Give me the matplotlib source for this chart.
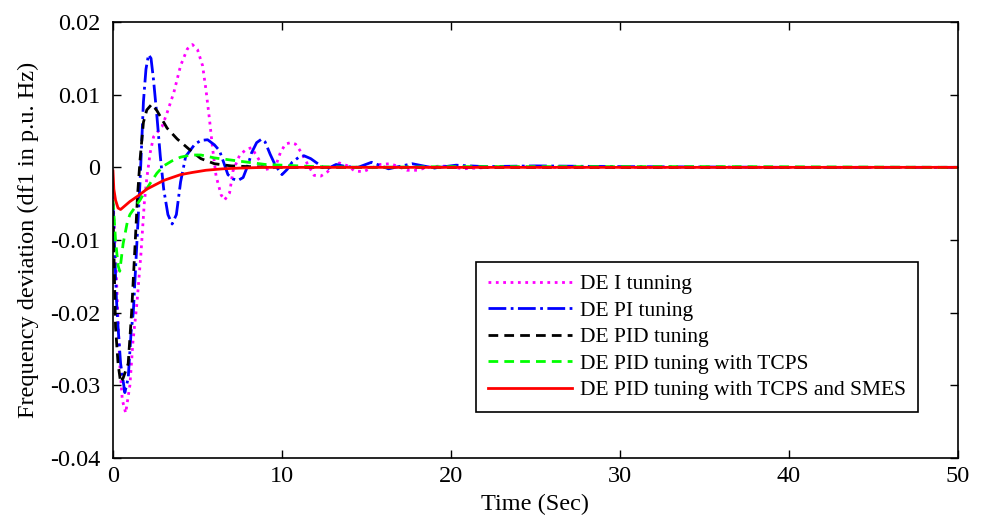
import matplotlib
matplotlib.use('Agg')
import matplotlib.pyplot as plt

# Values (time in s, deviation in p.u. Hz)
t_i = [0, 0.2, 0.4, 0.55, 0.75, 1.0, 1.18, 1.42, 1.65, 1.85, 2.0, 2.2, 2.4, 2.9, 3.2, 3.6, 4.0,
       4.4, 4.7, 5.0, 5.3, 5.5, 5.7, 5.9, 6.1, 6.4, 6.6, 6.9, 7.1, 7.5, 7.9, 8.2, 8.6, 9.0,
       9.6, 9.9, 10.2, 10.5, 10.8, 11.1, 11.5, 11.9, 12.3, 12.7, 13.0, 13.4, 13.9, 14.3, 14.8,
       15.3, 15.8, 16.4, 16.9, 17.4, 18.0, 18.6, 19.4, 20.0, 20.7, 21.5, 23, 26, 30, 40, 50]
df_i = [-0.004, -0.015, -0.027, -0.032, -0.0338, -0.030, -0.024, -0.0186, -0.012, -0.005,
        -0.0015, 0.002, 0.0042, 0.0056, 0.0075, 0.0103, 0.014, 0.0163, 0.0169, 0.0162,
        0.014, 0.0107, 0.0068, 0.0025, -0.0012, -0.0038, -0.0045, -0.0035, -0.0005, 0.0017,
        0.0025, 0.0027, 0.0012, -0.0003, 0.0, 0.002, 0.0032, 0.0034, 0.0032, 0.0022, 0.0005,
        -0.0011, -0.0012, -0.0006, 0.0001, 0.0006, 0.0002, -0.0005, -0.0006, -0.0001, 0.0004,
        0.0005, 0.0001, -0.0004, -0.0004, 0.0, 0.0002, 0.0001, -0.0002, -0.0001, 0.0001,
        0.0, 0.0, 0.0, 0.0]

t_pi = [0, 0.2, 0.3, 0.45, 0.7, 0.9, 1.07, 1.2, 1.4, 1.6, 1.8, 1.95, 2.1, 2.25, 2.4, 2.6, 2.8,
        3.0, 3.25, 3.5, 3.75, 4.0, 4.3, 4.85, 5.2, 5.6, 6.0, 6.3, 6.5, 6.8, 7.1, 7.4, 7.7, 8.0,
        8.2, 8.5, 8.8, 9.0, 9.3, 9.6, 10.0, 10.3, 10.6, 11.0, 11.3, 11.7, 12.0, 12.6, 13.2,
        13.8, 14.5, 15.3, 16.3, 17.7, 19.0, 20.3, 22, 25, 30, 40, 50]
df_pi = [-0.005, -0.018, -0.022, -0.027, -0.031, -0.029, -0.0227, -0.020, -0.011, -0.002,
         0.009, 0.0135, 0.0155, 0.015, 0.012, 0.007, 0.0015, -0.003, -0.0065, -0.0078,
         -0.0065, -0.002, 0.0015, 0.0032, 0.0037, 0.0038, 0.0031, 0.0023, 0.001, -0.001,
         -0.0016, -0.0018, -0.0014, 0.0004, 0.002, 0.0034, 0.0039, 0.0035, 0.0018, 0.0003,
         -0.001, -0.0003, 0.0007, 0.0014, 0.0016, 0.0012, 0.0007, -0.0003, 0.0004, 0.0001,
         0.0, 0.0007, -0.0002, 0.0005, -0.0001, 0.0003, 0.0001, 0.0002, 0.0001, 0.0, 0.0]

t_pid = [0, 0.15, 0.3, 0.45, 0.6, 0.9, 1.1, 1.3, 1.45, 1.6, 1.8, 2.0, 2.3, 2.6, 3.2, 3.8, 4.5,
         5.2, 6.0, 7.0, 8.0, 10, 20, 50]
df_pid = [-0.006, -0.022, -0.027, -0.0296, -0.029, -0.027, -0.020, -0.011, -0.004, 0.001,
          0.0062, 0.0079, 0.0087, 0.0078, 0.0054, 0.0039, 0.0025, 0.0012, 0.0005, 0.0002,
          0.0001, 0.0, 0.0, 0.0]

t_tcps = [0, 0.15, 0.3, 0.4, 0.6, 0.85, 1.0, 1.3, 1.6, 1.9, 2.2, 2.6, 3.0, 3.5, 4.0, 4.6, 5.2,
          6.0, 7.0, 8.0, 9.0, 10, 12, 15, 20, 37, 50]
df_tcps = [-0.0045, -0.010, -0.0135, -0.0143, -0.0105, -0.0075, -0.0065, -0.0055, -0.0045,
           -0.0033, -0.0022, -0.0008, 0.0002, 0.0009, 0.0014, 0.0017, 0.0017, 0.0013, 0.001,
           0.0007, 0.0004, 0.0003, 0.0001, 0.0, 0.0001, 0.0001, 0.0]

t_smes = [0, 0.05, 0.15, 0.3, 0.45, 0.7, 1.0, 1.5, 2.0, 2.5, 3.0, 3.5, 4.0, 4.7, 5.5, 6.5, 7.5,
          9, 50]
df_smes = [-0.0005, -0.003, -0.0045, -0.0056, -0.0058, -0.0053, -0.0047, -0.0039, -0.003,
           -0.0024, -0.0018, -0.0014, -0.001, -0.0007, -0.0004, -0.0002, -0.0001, 0.0, 0.0]

labels = ['DE I tunning', 'DE PI tuning', 'DE PID tuning', 'DE PID tuning with TCPS',
          'DE PID tuning with TCPS and SMES']

x_ticks = [0, 10, 20, 30, 40, 50]
y_ticks = [-0.04, -0.03, -0.02, -0.01, 0, 0.01, 0.02]
y_tick_labels = ['-0.04', '-0.03', '-0.02', '-0.01', '0', '0.01', '0.02']

plt.rcParams['font.family'] = ['Liberation Serif', 'DejaVu Serif']
plt.rcParams['font.size'] = 17.5

fig = plt.figure(figsize=(9.86, 5.17), dpi=100)
ax = fig.add_axes([0.1146, 0.1141, 0.857, 0.8433])

ax.plot(t_i, df_i, color='#ff00ff', linestyle=':', linewidth=2, label=labels[0])
ax.plot(t_pi, df_pi, color='#0000ff', linestyle='-.', linewidth=2, label=labels[1])
ax.plot(t_pid, df_pid, color='black', linestyle=(0, (3.5, 2.2)), linewidth=2, label=labels[2])
ax.plot(t_tcps, df_tcps, color='#00ff00', linestyle=(0, (3.5, 2.2)), linewidth=2, label=labels[3])
ax.plot(t_smes, df_smes, color='#ff0000', linestyle='-', linewidth=2, label=labels[4])

ax.set_xlim(0, 50)
ax.set_ylim(-0.04, 0.02)
ax.set_xticks(x_ticks)
ax.set_xticklabels([str(x) for x in x_ticks])
ax.set_yticks(y_ticks)
ax.set_yticklabels(y_tick_labels)
ax.tick_params(direction='in', top=True, right=True, length=6, width=1)
ax.tick_params(axis='y', pad=9)
ax.tick_params(axis='x', pad=6)
for s in ax.spines.values():
    s.set_linewidth(1.2)

ax.set_xlabel('Time (Sec)', labelpad=5)
ax.set_ylabel('Frequency deviation (df1 in p.u. Hz)', labelpad=8)

leg = ax.legend(loc='lower right', bbox_to_anchor=(0.9527, 0.1055), fancybox=False,
                edgecolor='black', framealpha=1, handlelength=3.9, borderpad=0.55,
                labelspacing=0.3, handletextpad=0.4, borderaxespad=0, fontsize=15.5)
leg.get_frame().set_linewidth(1.2)

fig.savefig('out.png', dpi=100)
